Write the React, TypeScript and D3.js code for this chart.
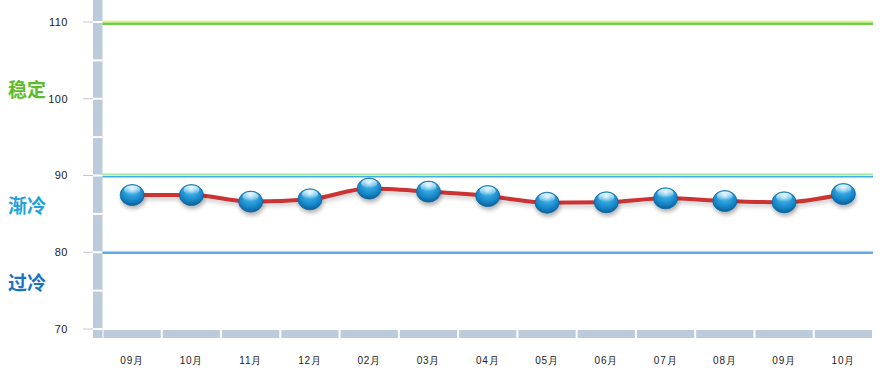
import React from "react";
import * as d3 from "d3";

const months = ["09月", "10月", "11月", "12月", "02月", "03月", "04月", "05月", "06月", "07月", "08月", "09月", "10月"];
const values = [87.46, 87.46, 86.6, 86.9, 88.3, 87.9, 87.33, 86.46, 86.51, 87.03, 86.68, 86.51, 87.59];
const majorTicks = [70, 80, 90, 100, 110];
const minorTicks = [75, 85, 95, 105];
const zones = [
  { label: "稳定", value: 101.1, color: "#5cbd2c" },
  { label: "渐冷", value: 86, color: "#1ea2e0" },
  { label: "过冷", value: 75.9, color: "#1a72c0" },
];

const W = 895;
const H = 383;
const plotLeft = 102.5;
const plotRight = 873;
const barLeft = 93;

export default function App() {
  const y = d3.scaleLinear().domain([70, 110]).range([329, 22]);
  const x = d3.scaleBand<string>().domain(months.map((m, i) => i + "")).range([plotLeft, plotRight]);
  const cx = (i: number) => (x(i + "") as number) + x.bandwidth() / 2;
  const line = d3
    .line<number>()
    .x((_, i) => cx(i))
    .y((d) => y(d))
    .curve(d3.curveMonotoneX);
  const path = line(values) || "";
  const baseY = y(70);

  return (
    <svg width={W} height={H} style={{ position: "absolute", left: 0, top: 0, fontFamily: "Liberation Sans, Arial, sans-serif" }}>
      <defs>
        <radialGradient id="ball" cx="50%" cy="35%" r="65%" fx="50%" fy="20%">
          <stop offset="0%" stopColor="#bfe8fb" />
          <stop offset="30%" stopColor="#3aaee6" />
          <stop offset="75%" stopColor="#1483c4" />
          <stop offset="100%" stopColor="#0b5f98" />
        </radialGradient>
        <linearGradient id="hl" x1="0" y1="0" x2="0" y2="1">
          <stop offset="0%" stopColor="#ffffff" stopOpacity="0.9" />
          <stop offset="100%" stopColor="#ffffff" stopOpacity="0.05" />
        </linearGradient>
        <filter id="sh" x="-50%" y="-50%" width="200%" height="200%">
          <feGaussianBlur stdDeviation="2" />
        </filter>
      </defs>

      {/* left axis bar */}
      <rect x={barLeft} y={0} width={plotLeft - barLeft} height={baseY + 9} fill="#bccbdc" />
      {[...majorTicks, ...minorTicks].map((t) => (
        <line key={"g" + t} x1={barLeft} x2={plotLeft} y1={y(t)} y2={y(t)} stroke="#ffffff" strokeWidth={2} />
      ))}
      {majorTicks.map((t) => (
        <g key={"t" + t}>
          <line x1={83} x2={barLeft} y1={y(t)} y2={y(t)} stroke="#c8c8c8" strokeWidth={1} />
          <text x={68} y={y(t)} dy="0.35em" textAnchor="end" fontSize={11} fill="#222" letterSpacing={0.5}>
            {t}
          </text>
        </g>
      ))}

      {/* bottom axis bar */}
      <rect x={barLeft} y={baseY + 1} width={plotLeft - barLeft - 1} height={8} fill="#bccbdc" />
      {months.map((m, i) => (
        <g key={"b" + i}>
          <rect x={(x(i + "") as number) + 1} y={baseY + 1} width={x.bandwidth() - 2} height={8} fill="#bccbdc" />
          <text x={cx(i)} y={364} textAnchor="middle" fontSize={10} fill="#222" letterSpacing={0.8}>
            {m}
          </text>
        </g>
      ))}

      {/* threshold lines */}
      <rect x={plotLeft} y={y(110) - 1.5} width={plotRight - plotLeft} height={2} fill="#e9ef96" />
      <rect x={plotLeft} y={y(110) + 0.5} width={plotRight - plotLeft} height={2.5} fill="#6fd044" />
      <rect x={plotLeft} y={y(90) - 2} width={plotRight - plotLeft} height={2} fill="#a6e6a0" />
      <rect x={plotLeft} y={y(90) + 0.5} width={plotRight - plotLeft} height={1.5} fill="#3fb0e6" />
      <rect x={plotLeft} y={y(80) - 1.5} width={plotRight - plotLeft} height={1.5} fill="#a8daf5" />
      <rect x={plotLeft} y={y(80)} width={plotRight - plotLeft} height={1.5} fill="#3c8ad6" />

      {/* zone labels */}
      {zones.map((z) => (
        <text key={z.label} x={8} y={y(z.value)} dy="0.35em" fontSize={19} fontWeight="bold" fill={z.color} fontFamily="Noto Sans CJK SC, sans-serif">
          {z.label}
        </text>
      ))}

      {/* line */}
      <path d={path} fill="none" stroke="#000" strokeOpacity={0.2} strokeWidth={4} transform="translate(1,3)" filter="url(#sh)" />
      <path d={path} fill="none" stroke="#cc3333" strokeWidth={4} strokeLinejoin="round" />

      {/* points */}
      {values.map((v, i) => (
        <g key={"p" + i}>
          <ellipse cx={cx(i) + 1} cy={y(v) + 4} rx={12} ry={10} fill="#000" opacity={0.3} filter="url(#sh)" />
          <ellipse cx={cx(i)} cy={y(v)} rx={12} ry={10.5} fill="url(#ball)" stroke="#0e6aa5" strokeWidth={0.8} />
          <ellipse cx={cx(i)} cy={y(v) - 5} rx={8} ry={4.5} fill="url(#hl)" />
        </g>
      ))}
    </svg>
  );
}
